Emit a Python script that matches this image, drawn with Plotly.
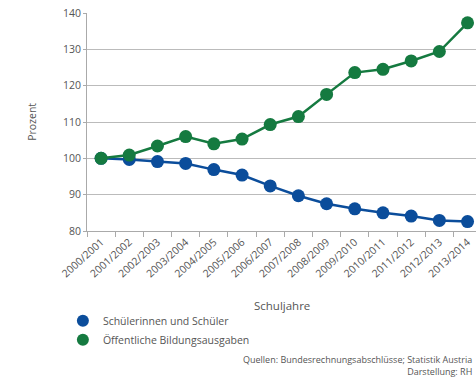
import plotly.graph_objects as go

years = ["2000/2001", "2001/2002", "2002/2003", "2003/2004", "2004/2005", "2005/2006",
         "2006/2007", "2007/2008", "2008/2009", "2009/2010", "2010/2011", "2011/2012",
         "2012/2013", "2013/2014"]
schueler = [100, 99.7, 99.1, 98.6, 96.9, 95.4, 92.4, 89.7, 87.5, 86.1, 85.0, 84.1, 82.9, 82.6]
ausgaben = [100, 100.9, 103.4, 106.0, 104.0, 105.3, 109.3, 111.5, 117.6, 123.6, 124.5, 126.8, 129.4, 137.3]

blue = "#0b4d9b"
green = "#157a40"
grey_text = "#555555"
font = "Open Sans"

fig = go.Figure()
fig.add_trace(go.Scatter(x=years, y=schueler, mode="lines+markers", showlegend=False,
                         line=dict(color=blue, width=2.5), marker=dict(size=13, color=blue)))
fig.add_trace(go.Scatter(x=years, y=ausgaben, mode="lines+markers", showlegend=False,
                         line=dict(color=green, width=2.5), marker=dict(size=13, color=green)))
fig.add_trace(go.Scatter(x=[None], y=[None], mode="markers", name="Schülerinnen und Schüler",
                         marker=dict(size=12, color=blue)))
fig.add_trace(go.Scatter(x=[None], y=[None], mode="markers", name="Öffentliche Bildungsausgaben",
                         marker=dict(size=12, color=green)))

fig.update_layout(
    width=476, height=377,
    margin=dict(l=87, r=0, t=13, b=146),
    paper_bgcolor="white", plot_bgcolor="white",
    font=dict(family=font, size=10, color=grey_text),
    xaxis=dict(type="category", range=[-0.5, 13.3], tickson="boundaries", ticks="outside",
               ticklen=5, tickcolor="#aaaaaa", tickangle=-42, showgrid=False,
               showline=True, linecolor="#aaaaaa", linewidth=1,
               tickfont=dict(size=10.5, color=grey_text), fixedrange=True),
    yaxis=dict(range=[80, 140], dtick=10, showgrid=True, gridcolor="#bbbbbb", gridwidth=1,
               showline=True, linecolor="#aaaaaa", ticks="outside", ticklen=3,
               tickcolor="#aaaaaa", zeroline=False, tickfont=dict(size=10.5, color=grey_text)),
    legend=dict(x=-0.062, y=-0.345, xanchor="left", yanchor="top", tracegroupgap=0,
                font=dict(size=10.5, color=grey_text), itemwidth=30, bgcolor="rgba(0,0,0,0)"),
    showlegend=True,
)

fig.add_annotation(text="Schuljahre", xref="paper", yref="paper", x=0.5, y=-0.344,
                   showarrow=False, font=dict(size=11.5, color=grey_text), yanchor="middle")
fig.add_annotation(text="Prozent", xref="paper", yref="paper", x=-0.165, y=0.5, textangle=-90,
                   showarrow=False, font=dict(size=10.5, color=grey_text))
fig.add_annotation(text="Quellen: Bundesrechnungsabschlüsse; Statistik Austria<br>Darstellung: RH",
                   xref="paper", yref="paper", x=0.995, y=-0.55, xanchor="right", yanchor="top",
                   align="right", showarrow=False, font=dict(size=9, color=grey_text))

fig.write_html("out.html")
